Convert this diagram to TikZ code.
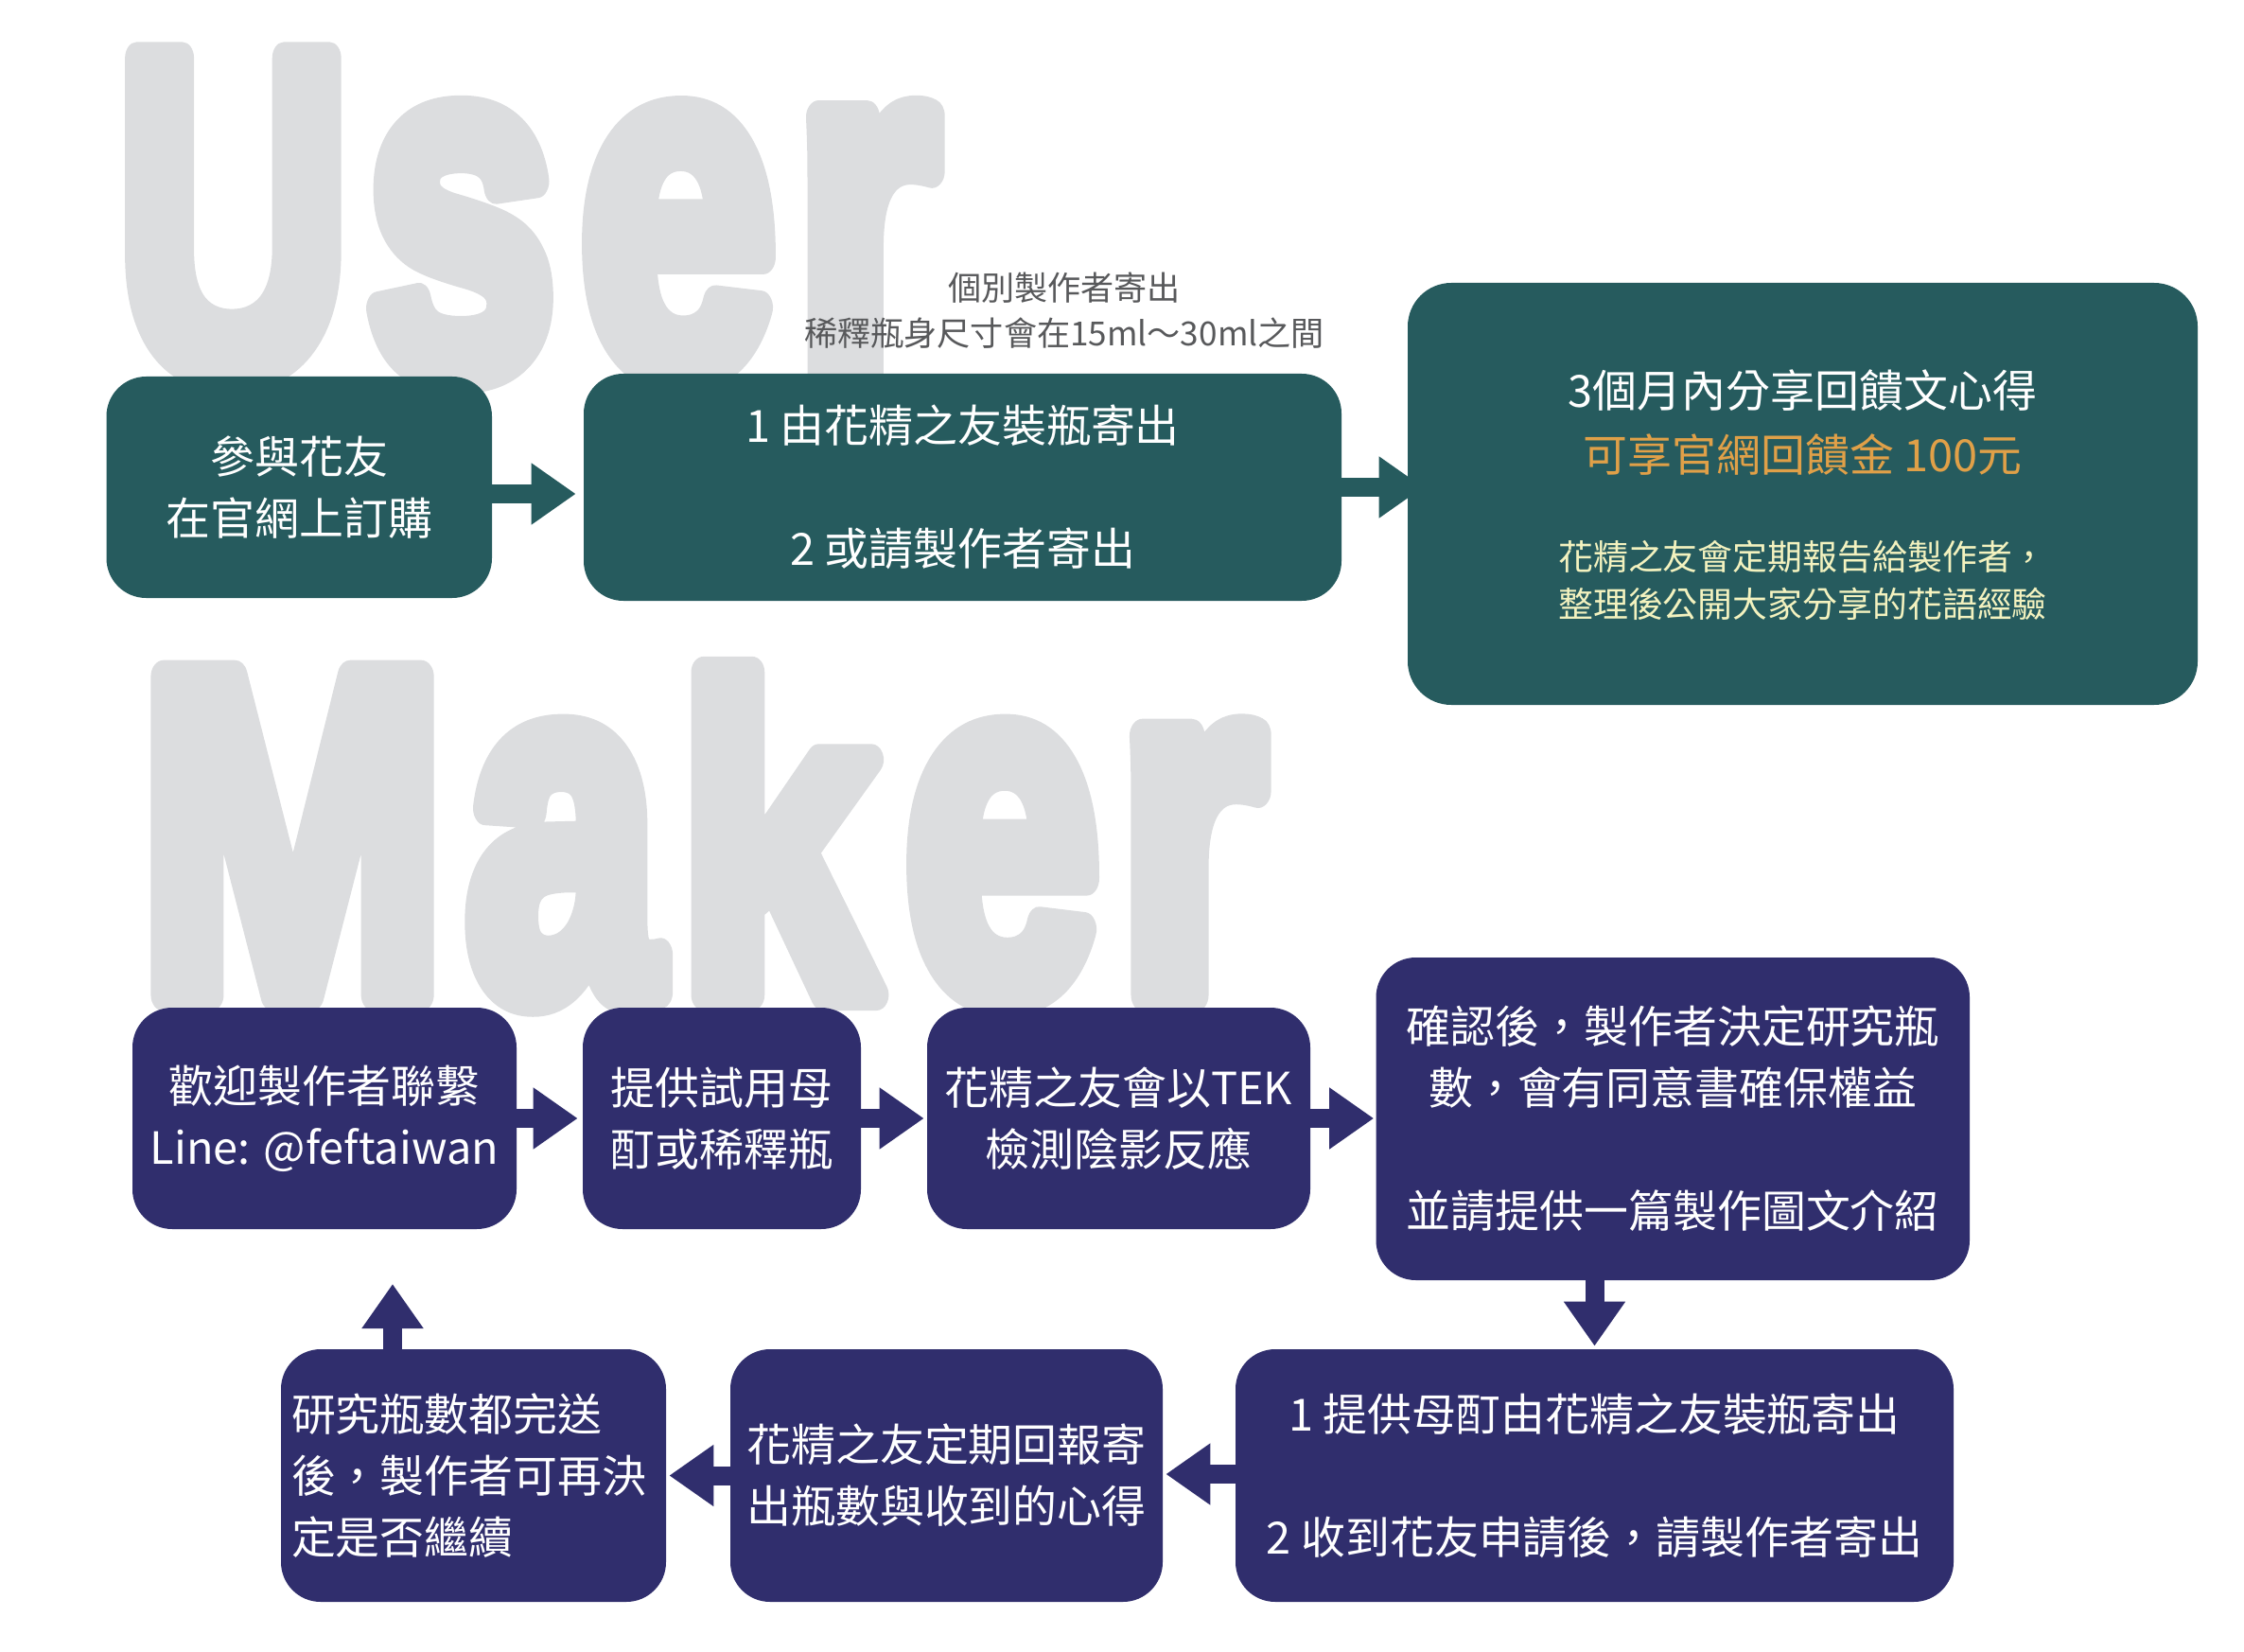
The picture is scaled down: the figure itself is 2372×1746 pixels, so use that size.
\documentclass[tikz,border=0pt]{standalone}
\usepackage{fontspec}
\usepackage{graphicx}
\setmainfont{Noto Sans CJK TC}
\newfontfamily\bigf{Liberation Sans}[FakeBold=7]
\usetikzlibrary{arrows.meta,calc}
\newlength\px
\setlength\px{0.02cm}
% one big glyph: x offset (px), x scale, y scale, letter
\newcommand\bglyph[4]{\rlap{\hspace*{#1\px}\scalebox{#2}[#3]{\bigf\bfseries\fontsize{10pt}{12pt}\selectfont #4}}}
\definecolor{userc}{HTML}{265B5E}
\definecolor{makerc}{HTML}{302E6D}
\definecolor{biggray}{HTML}{DCDDDF}
\definecolor{goldtxt}{HTML}{E0A048}
\definecolor{paleyel}{HTML}{F3F2BF}
\definecolor{notegray}{HTML}{58595B}
\pgfdeclarelayer{letters}
\pgfdeclarelayer{arrows}
\pgfsetlayers{letters,arrows,main}
\tikzset{
  box/.style={rounded corners=42\px, inner sep=0pt, text=white,
    font=\fontsize{26.7pt}{37pt}\selectfont, align=center},
  ubox/.style={box, fill=userc},
  mbox/.style={box, fill=makerc},
  barrow/.style={line width=11.38pt, -{Triangle[width=35.28pt,length=26.75pt]}},
  bigword/.style={anchor=base west, inner sep=0pt, text=biggray, line join=round},
}
\begin{document}
\begin{tikzpicture}[x=0.02cm,y=-0.02cm]
\useasboundingbox (0,0) rectangle (2372,1746);

% big background words
\begin{pgfonlayer}{letters}
\node[bigword] (userword) at (0,393.2) {\bglyph{122.4}{19.378}{27.447}{U}\bglyph{385.8}{20.462}{29.01}{s}\bglyph{612.4}{21.079}{29.01}{e}\bglyph{838.8}{22.071}{29.01}{r}};
\node[bigword] (makerword) at (0,1051.5) {\bglyph{145.8}{22.138}{27.85}{M}\bglyph{492.2}{20.739}{29.48}{a}\bglyph{716.3}{21.327}{26.790}{k}\bglyph{955.4}{20.981}{29.48}{e}\bglyph{1180.5}{22.522}{29.48}{r}};
\end{pgfonlayer}

% user row
\node[ubox, minimum width=407.5\px, minimum height=234\px] (b1) at (316.25,515) {參與花友\\在官網上訂購};
\node[ubox, minimum width=801\px, minimum height=240\px] (b2) at (1017.5,515) {1 由花精之友裝瓶寄出\\[37pt]2 或請製作者寄出};
\node[ubox, rounded corners=46\px, minimum width=835\px, minimum height=446\px] (b3) at (1905.5,522) {};
\node[text=white, align=center, inner sep=0pt, font=\fontsize{26.7pt}{38.7pt}\selectfont] (b3t) at ($(b3.center)+(0,-75)$) {3個月內分享回饋文心得\\\textcolor{goldtxt}{可享官網回饋金 100元}};
\node[text=paleyel, align=center, inner sep=0pt, font=\fontsize{21pt}{28.5pt}\selectfont] (b3n) at ($(b3.center)+(0,91)$) {花精之友會定期報告給製作者，\\整理後公開大家分享的花語經驗};
\node[text=notegray, align=center, inner sep=0pt, font=\fontsize{20pt}{27.3pt}\selectfont] (note) at (1125,328) {個別製作者寄出\\稀釋瓶身尺寸會在15ml～30ml之間};

% maker rows
\node[mbox, minimum width=406\px, minimum height=234\px] (m1) at (343,1182) {歡迎製作者聯繫\\Line: @feftaiwan};
\node[mbox, minimum width=294\px, minimum height=234\px] (m2) at (763,1182) {提供試用母\\酊或稀釋瓶};
\node[mbox, minimum width=405\px, minimum height=234\px] (m3) at (1182.5,1182) {花精之友會以TEK\\檢測陰影反應};
\node[mbox, minimum width=627.5\px, minimum height=341\px] (m4) at (1768.25,1182.5) {確認後，製作者決定研究瓶\\數，會有同意書確保權益\\[37pt]並請提供一篇製作圖文介紹};
\node[mbox, minimum width=759\px, minimum height=267\px] (m5) at (1685.5,1559.5) {1 提供母酊由花精之友裝瓶寄出\\[37pt]2 收到花友申請後，請製作者寄出};
\node[mbox, minimum width=457\px, minimum height=267\px] (m6) at (1000.5,1559.5) {花精之友定期回報寄\\出瓶數與收到的心得};
\node[mbox, minimum width=407\px, minimum height=267\px, text width=385\px, align=left] (m7) at (500.5,1559.5) {研究瓶數都完送\\後，製作者可再決\\定是否繼續};
\coordinate (loopend) at (415,1357);

% arrows
\begin{pgfonlayer}{arrows}
\draw[barrow, userc] ($(b1.east)+(0,7)$) -- ($(b2.west)+(-8,7)$);
\draw[barrow, userc] (b2.east) -- ($(b3.west)+(17,-7)$);
\draw[barrow, makerc] (m1.east) -- ($(m2.west)+(-5,0)$);
\draw[barrow, makerc] (m2.east) -- ($(m3.west)+(-3,0)$);
\draw[barrow, makerc] (m3.east) -- ($(m3.east -| m4.west)+(-2,0)$);
\draw[barrow, makerc] (m4.south -| m5.north) -- ($(m5.north)+(0,-3)$);
\draw[barrow, makerc] ($(m5.west)+(0,-1.5)$) -- ($(m6.east)+(3,-1.5)$);
\draw[barrow, makerc] (m6.west) -- ($(m7.east)+(3,0)$);
\draw[barrow, makerc] (m7.north -| loopend) -- (loopend);
\end{pgfonlayer}
\end{tikzpicture}
\end{document}
